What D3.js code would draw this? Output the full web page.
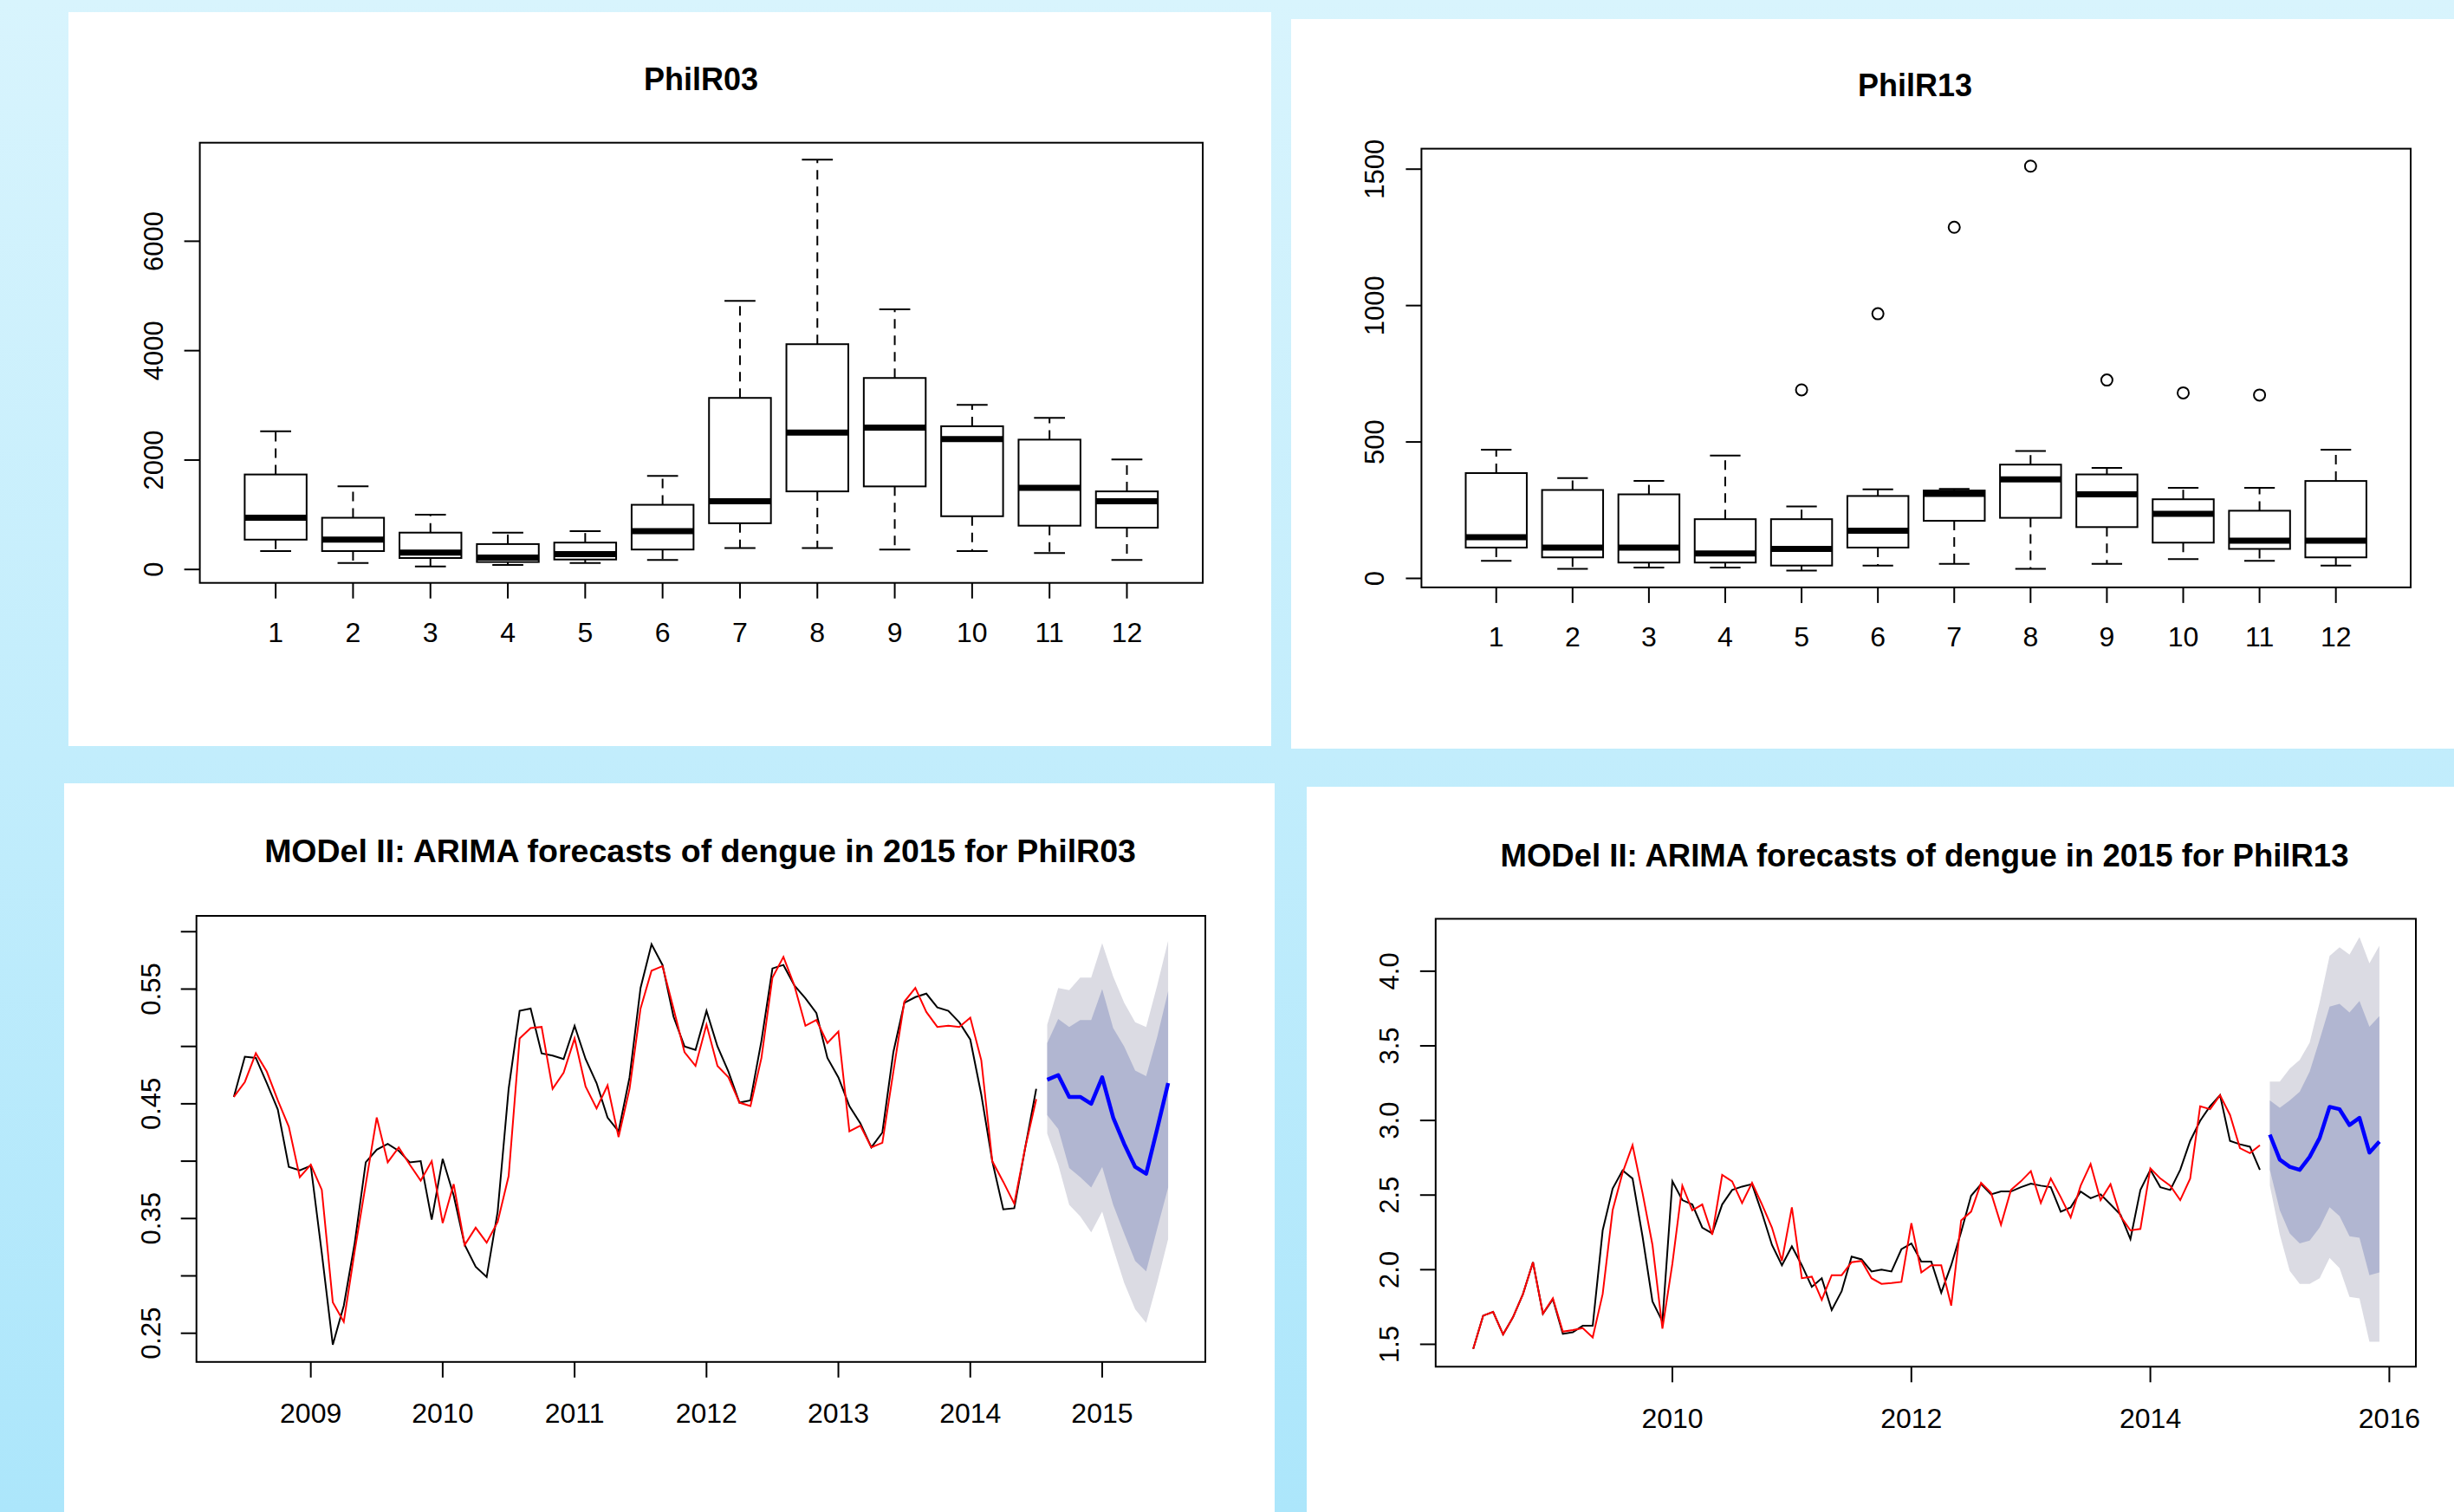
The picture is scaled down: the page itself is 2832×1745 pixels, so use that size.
<!DOCTYPE html>
<html><head><meta charset="utf-8">
<script src="https://cdn.jsdelivr.net/npm/d3@7"></script>
<style>html,body{margin:0;padding:0;overflow:hidden;background:#fff}svg{display:block}</style>
</head><body>
<svg id="c" width="2832" height="1745"></svg>
<script>
// ---------- DATA ----------
const months = [1,2,3,4,5,6,7,8,9,10,11,12];
const boxTicksY03 = [0, 2000, 4000, 6000];
const boxTicksY13 = [0, 500, 1000, 1500];

// PhilR03 monthly boxplot stats
const r03Low  = [336, 118, 55, 82, 118, 173, 391, 391, 364, 336, 300, 173];
const r03Q1   = [545, 336, 209, 136, 182, 364, 845, 1427, 1518, 973, 800, 764];
const r03Med  = [945, 545, 309, 218, 282, 700, 1245, 2500, 2591, 2382, 1491, 1245];
const r03Q3   = [1736, 945, 673, 464, 491, 1182, 3136, 4118, 3500, 2618, 2373, 1427];
const r03High = [2527, 1518, 1000, 673, 700, 1709, 4909, 7491, 4755, 3009, 2773, 2009];
const r03Out  = [];

// PhilR13 monthly boxplot stats
const r13Low  = [64, 35, 40, 40, 29, 47, 53, 35, 53, 71, 64, 47];
const r13Q1   = [113, 77, 58, 58, 47, 113, 211, 222, 188, 131, 108, 77];
const r13Med  = [151, 113, 113, 91, 108, 175, 310, 363, 308, 237, 138, 138];
const r13Q3   = [386, 324, 308, 217, 217, 302, 322, 417, 381, 290, 248, 357];
const r13High = [472, 368, 357, 450, 264, 326, 328, 467, 405, 332, 332, 472];
const r13OutMonth = [5, 6, 7, 8, 9, 10, 11];
const r13OutValue = [691, 970, 1287, 1511, 727, 680, 672];

// PhilR03 time series (monthly, from Jun 2008)
const ts03Start = 2008 + 5/12;
const ts03Obs = [0.456,0.491,0.490,0.468,0.445,0.395,0.392,0.396,0.320,0.240,
 0.274,0.329,0.399,0.410,0.415,0.409,0.399,0.400,0.349,0.402,
 0.370,0.327,0.308,0.299,0.356,0.463,0.531,0.533,0.494,0.492,
 0.489,0.518,0.489,0.468,0.438,0.426,0.473,0.551,0.589,0.571,
 0.526,0.500,0.497,0.531,0.500,0.478,0.451,0.453,0.505,0.568,
 0.571,0.553,0.542,0.529,0.490,0.473,0.448,0.433,0.412,0.425,
 0.495,0.538,0.543,0.546,0.534,0.531,0.521,0.506,0.458,0.400,
 0.358,0.359,0.412,0.463];
const ts03Fit = [0.456,0.469,0.494,0.478,0.453,0.430,0.386,0.397,0.375,0.277,
 0.260,0.322,0.380,0.438,0.399,0.412,0.397,0.383,0.400,0.346,
 0.380,0.327,0.342,0.329,0.347,0.387,0.507,0.516,0.517,0.463,
 0.477,0.507,0.465,0.446,0.466,0.421,0.463,0.533,0.566,0.570,
 0.533,0.495,0.483,0.519,0.483,0.473,0.451,0.448,0.490,0.560,
 0.578,0.553,0.518,0.523,0.503,0.513,0.426,0.431,0.412,0.416,
 0.478,0.539,0.551,0.530,0.517,0.518,0.517,0.525,0.488,0.400,
 0.382,0.363,0.412,0.454];
const fc03Mean = [0.471,0.475,0.456,0.456,0.450,0.473,0.438,0.415,0.395,0.389,0.428,0.468];
const fc03Lo80 = [0.440,0.428,0.394,0.386,0.377,0.395,0.362,0.337,0.313,0.304,0.341,0.377];
const fc03Hi80 = [0.503,0.524,0.517,0.523,0.523,0.550,0.516,0.500,0.479,0.474,0.508,0.548];
const fc03Lo95 = [0.424,0.397,0.362,0.352,0.338,0.356,0.324,0.294,0.271,0.259,0.294,0.332];
const fc03Hi95 = [0.519,0.551,0.549,0.560,0.560,0.590,0.561,0.538,0.521,0.517,0.553,0.592];
const ts03YTicks = [0.25,0.30,0.35,0.40,0.45,0.50,0.55,0.60];
const ts03YLabels = [0.25,0.35,0.45,0.55];
const ts03XTicks = [2009,2010,2011,2012,2013,2014,2015];

// PhilR13 time series (monthly, from May 2008)
const ts13Start = 2008 + 4/12;
const ts13Obs = [1.469,1.692,1.717,1.566,1.682,1.837,2.050,1.705,1.802,1.570,
 1.581,1.624,1.624,2.263,2.543,2.665,2.611,2.224,1.788,1.653,
 2.592,2.466,2.437,2.282,2.243,2.437,2.534,2.557,2.573,2.379,
 2.166,2.030,2.156,2.030,1.885,1.943,1.730,1.856,2.088,2.069,
 1.988,2.001,1.988,2.137,2.176,2.054,2.054,1.846,2.030,2.253,
 2.495,2.573,2.505,2.524,2.524,2.553,2.576,2.563,2.553,2.389,
 2.418,2.524,2.479,2.505,2.437,2.369,2.205,2.534,2.669,2.553,
 2.534,2.669,2.863,2.998,3.095,3.169,2.863,2.840,2.824,2.669];
const ts13Fit = [1.469,1.692,1.717,1.566,1.682,1.837,2.050,1.705,1.808,1.585,
 1.595,1.608,1.546,1.837,2.398,2.650,2.834,2.515,2.166,1.605,
 2.040,2.563,2.398,2.437,2.234,2.635,2.592,2.447,2.582,2.437,
 2.282,2.059,2.418,1.943,1.953,1.798,1.963,1.963,2.050,2.059,
 1.943,1.905,1.910,1.918,2.311,1.982,2.030,2.030,1.759,2.330,
 2.389,2.582,2.515,2.301,2.534,2.592,2.660,2.447,2.611,2.486,
 2.350,2.563,2.708,2.466,2.573,2.359,2.263,2.273,2.679,2.611,
 2.563,2.466,2.611,3.095,3.075,3.169,3.037,2.814,2.781,2.834];
const fc13Mean = [2.905,2.737,2.689,2.669,2.756,2.882,3.091,3.075,2.969,3.017,2.785,2.859];
const fc13Lo80 = [2.669,2.398,2.243,2.176,2.195,2.282,2.418,2.359,2.224,2.214,1.963,1.982];
const fc13Hi80 = [3.134,3.085,3.134,3.192,3.327,3.540,3.763,3.782,3.724,3.801,3.627,3.699];
const fc13Lo95 = [2.563,2.234,1.992,1.905,1.905,1.943,2.079,2.011,1.817,1.808,1.517,1.517];
const fc13Hi95 = [3.260,3.260,3.347,3.405,3.521,3.792,4.102,4.160,4.111,4.228,4.053,4.170];
const ts13YTicks = [1.5,2.0,2.5,3.0,3.5,4.0];
const ts13XTicks = [2010,2012,2014,2016];

// ---------- DRAW ----------
const FONT = "'Liberation Sans', Arial, Helvetica, sans-serif";
const svg = d3.select('#c');
const defs = svg.append('defs');
const g = defs.append('linearGradient').attr('id','bg').attr('x1',0).attr('y1',0).attr('x2',0).attr('y2',1);
g.append('stop').attr('offset','0%').attr('stop-color','#d8f4fd');
g.append('stop').attr('offset','100%').attr('stop-color','#ace6fb');
svg.append('rect').attr('width',2832).attr('height',1745).attr('fill','url(#bg)');

const panels = [
  {x:79, y:14, w:1388, h:847},
  {x:1490, y:22, w:1342, h:842},
  {x:74, y:904, w:1397, h:841},
  {x:1508, y:908, w:1324, h:837}
];
svg.selectAll('rect.panel').data(panels).enter().append('rect')
  .attr('class','panel').attr('x',d=>d.x).attr('y',d=>d.y).attr('width',d=>d.w).attr('height',d=>d.h).attr('fill','#fff');

const TICK = 18;

function frame(layer, box, title, titleX, titleY, titleSize) {
  layer.append('rect').attr('x',box.x0).attr('y',box.y0).attr('width',box.x1-box.x0).attr('height',box.y1-box.y0)
    .attr('fill','none').attr('stroke','#000').attr('stroke-width',2);
  layer.append('text').attr('x',titleX).attr('y',titleY).attr('text-anchor','middle')
    .attr('font-family',FONT).attr('font-weight','bold').attr('font-size',titleSize).attr('fill','#000').text(title);
}

function yAxis(layer, box, y, ticks, labels, labelX, fmt) {
  layer.selectAll(null).data(ticks).enter().append('line')
    .attr('x1',box.x0-TICK).attr('x2',box.x0).attr('y1',d=>y(d)).attr('y2',d=>y(d))
    .attr('stroke','#000').attr('stroke-width',2);
  layer.selectAll(null).data(labels).enter().append('text')
    .attr('transform',d=>`translate(${labelX},${y(d)}) rotate(-90)`)
    .attr('text-anchor','middle').attr('font-family',FONT).attr('font-size',31).attr('fill','#000')
    .text(fmt);
}
function xAxis(layer, box, x, ticks, labelY, fmt) {
  layer.selectAll(null).data(ticks).enter().append('line')
    .attr('x1',d=>x(d)).attr('x2',d=>x(d)).attr('y1',box.y1).attr('y2',box.y1+TICK)
    .attr('stroke','#000').attr('stroke-width',2);
  layer.selectAll(null).data(ticks).enter().append('text')
    .attr('x',d=>x(d)).attr('y',labelY).attr('text-anchor','middle')
    .attr('font-family',FONT).attr('font-size',32).attr('fill','#000').text(fmt);
}

function boxplot(cfg) {
  const L = svg.append('g');
  const b = cfg.box;
  const x = d3.scaleLinear().domain([0.02, 12.98]).range([b.x0, b.x1]);
  const y = d3.scaleLinear().domain(cfg.yDomain).range([b.y1, b.y0]);
  const bw = (x(1.4) - x(0.6));
  const sw = bw/2;
  const rows = months.map((m,i)=>({m, lo:cfg.low[i], q1:cfg.q1[i], med:cfg.med[i], q3:cfg.q3[i], hi:cfg.high[i]}));
  const grp = L.selectAll(null).data(rows).enter().append('g');
  grp.append('line').attr('x1',d=>x(d.m)).attr('x2',d=>x(d.m)).attr('y1',d=>y(d.q3)).attr('y2',d=>y(d.hi))
    .attr('stroke','#000').attr('stroke-width',2).attr('stroke-dasharray','11,8');
  grp.append('line').attr('x1',d=>x(d.m)).attr('x2',d=>x(d.m)).attr('y1',d=>y(d.q1)).attr('y2',d=>y(d.lo))
    .attr('stroke','#000').attr('stroke-width',2).attr('stroke-dasharray','11,8');
  grp.append('line').attr('x1',d=>x(d.m)-sw/2).attr('x2',d=>x(d.m)+sw/2).attr('y1',d=>y(d.hi)).attr('y2',d=>y(d.hi))
    .attr('stroke','#000').attr('stroke-width',2);
  grp.append('line').attr('x1',d=>x(d.m)-sw/2).attr('x2',d=>x(d.m)+sw/2).attr('y1',d=>y(d.lo)).attr('y2',d=>y(d.lo))
    .attr('stroke','#000').attr('stroke-width',2);
  grp.append('rect').attr('x',d=>x(d.m)-bw/2).attr('width',bw).attr('y',d=>y(d.q3)).attr('height',d=>y(d.q1)-y(d.q3))
    .attr('fill','#fff').attr('stroke','#000').attr('stroke-width',2);
  grp.append('line').attr('x1',d=>x(d.m)-bw/2).attr('x2',d=>x(d.m)+bw/2).attr('y1',d=>y(d.med)).attr('y2',d=>y(d.med))
    .attr('stroke','#000').attr('stroke-width',7);
  L.selectAll(null).data(cfg.outM.map((m,i)=>({m, v:cfg.outV[i]}))).enter().append('circle')
    .attr('cx',d=>x(d.m)).attr('cy',d=>y(d.v)).attr('r',6.5).attr('fill','none').attr('stroke','#000').attr('stroke-width',2);
  frame(L, b, cfg.title, cfg.titleX, cfg.titleY, 36);
  yAxis(L, b, y, cfg.yTicks, cfg.yTicks, cfg.yLabelX, d=>String(d));
  xAxis(L, b, x, months, cfg.xLabelY, d=>String(d));
}

function tsplot(cfg) {
  const L = svg.append('g');
  const b = cfg.box;
  const x = d3.scaleLinear().domain(cfg.xDomain).range([b.x0, b.x1]);
  const y = d3.scaleLinear().domain(cfg.yDomain).range([b.y1, b.y0]);
  const n = cfg.obs.length;
  const tObs = d => cfg.start + d/12;
  const tFc = d => cfg.start + (n + d)/12;
  const fc = cfg.mean.map((v,i)=>({t:tFc(i), m:v, lo80:cfg.lo80[i], hi80:cfg.hi80[i], lo95:cfg.lo95[i], hi95:cfg.hi95[i]}));
  L.append('path').datum(fc).attr('fill','#dbdbe3')
    .attr('d', d3.area().x(d=>x(d.t)).y0(d=>y(d.lo95)).y1(d=>y(d.hi95)));
  L.append('path').datum(fc).attr('fill','#b1b6d1')
    .attr('d', d3.area().x(d=>x(d.t)).y0(d=>y(d.lo80)).y1(d=>y(d.hi80)));
  L.append('path').datum(fc).attr('fill','none').attr('stroke','#0000ff').attr('stroke-width',4.5).attr('stroke-linejoin','round')
    .attr('d', d3.line().x(d=>x(d.t)).y(d=>y(d.m)));
  const line = d3.line().x((d,i)=>x(tObs(i))).y(d=>y(d));
  L.append('path').datum(cfg.obs).attr('fill','none').attr('stroke','#000').attr('stroke-width',2).attr('d',line);
  L.append('path').datum(cfg.fit).attr('fill','none').attr('stroke','#ff0000').attr('stroke-width',2).attr('d',line);
  frame(L, b, cfg.title, cfg.titleX, cfg.titleY, cfg.titleSize);
  yAxis(L, b, y, cfg.yTicks, cfg.yLabels, cfg.yLabelX, cfg.yFmt);
  xAxis(L, b, x, cfg.xTicks, cfg.xLabelY, d=>String(d));
}

boxplot({box:{x0:230.6,x1:1388,y0:164.7,y1:672.7}, yDomain:[-245.5,7801],
  low:r03Low,q1:r03Q1,med:r03Med,q3:r03Q3,high:r03High,outM:[],outV:r03Out,
  title:'PhilR03', titleX:809, titleY:104, yTicks:boxTicksY03, yLabelX:188, xLabelY:741});
boxplot({box:{x0:1640.4,x1:2782,y0:171.6,y1:677.9}, yDomain:[-33,1575],
  low:r13Low,q1:r13Q1,med:r13Med,q3:r13Q3,high:r13High,outM:r13OutMonth,outV:r13OutValue,
  title:'PhilR13', titleX:2210, titleY:111, yTicks:boxTicksY13, yLabelX:1597, xLabelY:746});

tsplot({box:{x0:226.7,x1:1391,y0:1057,y1:1571.8}, xDomain:[2008.133,2015.782], yDomain:[0.225,0.6138],
  start:ts03Start, obs:ts03Obs, fit:ts03Fit, mean:fc03Mean, lo80:fc03Lo80, hi80:fc03Hi80, lo95:fc03Lo95, hi95:fc03Hi95,
  title:'MODel II: ARIMA forecasts of dengue in 2015 for PhilR03', titleX:808, titleY:995, titleSize:37.5,
  yTicks:ts03YTicks, yLabels:ts03YLabels, yLabelX:185, yFmt:d=>d.toFixed(2), xTicks:ts03XTicks, xLabelY:1642});
tsplot({box:{x0:1656.8,x1:2788,y0:1060.4,y1:1577.3}, xDomain:[2008.019,2016.222], yDomain:[1.350,4.351],
  start:ts13Start, obs:ts13Obs, fit:ts13Fit, mean:fc13Mean, lo80:fc13Lo80, hi80:fc13Hi80, lo95:fc13Lo95, hi95:fc13Hi95,
  title:'MODel II: ARIMA forecasts of dengue in 2015 for PhilR13', titleX:2221, titleY:1000, titleSize:36.5,
  yTicks:ts13YTicks, yLabels:ts13YTicks, yLabelX:1614, yFmt:d=>d.toFixed(1), xTicks:ts13XTicks, xLabelY:1648});
</script>
</body></html>
